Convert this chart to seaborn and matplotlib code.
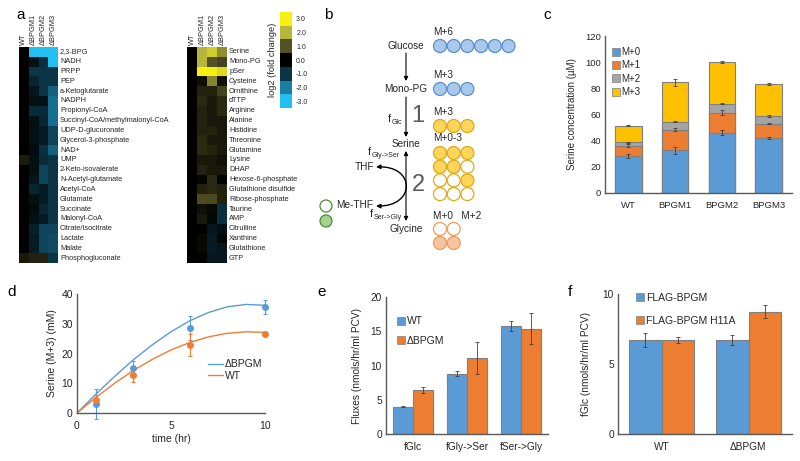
import numpy as np
import pandas as pd
import matplotlib
matplotlib.use("Agg")
import matplotlib.pyplot as plt
import seaborn as sns
from matplotlib.colors import LinearSegmentedColormap
from matplotlib.patches import Circle, FancyArrowPatch
from matplotlib.path import Path
from matplotlib.lines import Line2D

# ------------------------------------------------------------------ data
hm_columns = ["WT", "ΔBPGM1", "ΔBPGM2", "ΔBPGM3"]

left_metabolites = ["2,3-BPG", "NADH", "PRPP", "PEP", "a-Ketoglutarate", "NADPH",
                    "Propionyl-CoA", "Succinyl-CoA/methylmalonyl-CoA", "UDP-D-glucuronate",
                    "Glycerol-3-phosphate", "NAD+", "UMP", "2-Keto-isovalerate",
                    "N-Acetyl-glutamate", "Acetyl-CoA", "Glutamate", "Succinate",
                    "Malonyl-CoA", "Citrate/Isocitrate", "Lactate", "Malate", "Phosphogluconate"]
left_wt    = [0, 0, 0, 0, 0, 0, 0, 0, 0, 0, 0, 0.35, 0, 0, 0, 0, 0, 0, 0, 0, 0, 0.3]
left_bpgm1 = [-3, -0.3, -1.0, -0.7, -0.4, -0.3, -0.8, -0.3, -0.3, -0.3, -0.2, -0.3, -0.3, -0.4,
              -0.7, -0.3, -0.2, -0.3, -0.6, -0.5, -0.5, 0.4]
left_bpgm2 = [-3, -0.9, -1.0, -1.0, -1.0, -0.3, -0.8, -0.7, -0.5, -0.5, -0.9, -0.8, -1.2, -1.2,
              -0.5, -0.5, -0.7, -0.5, -1.2, -1.2, -1.2, 0.4]
left_bpgm3 = [-3, -3, -1.0, -1.0, -1.6, -1.8, -1.8, -1.8, -1.2, -1.2, -1.6, -1.0, -1.0, -1.0,
              -1.0, -1.0, -1.0, -1.0, -1.2, -1.3, -1.3, -1.0]

right_metabolites = ["Serine", "Mono-PG", "pSer", "Cysteine", "Ornithine", "dTTP", "Arginine",
                     "Alanine", "Histidine", "Threonine", "Glutamine", "Lysine", "DHAP",
                     "Hexose-6-phosphate", "Glutathione disulfide", "Ribose-phosphate",
                     "Taurine", "AMP", "Citrulline", "Xanthine", "Glutathione", "GTP"]
right_wt    = [0] * 22
right_bpgm1 = [2.0, 2.0, 3.0, 0.2, 0.4, 0.5, 0.4, 0.4, 0.4, 0.5, 0.5, 0.3, 0.4, 0.05, 0.4, 0.9,
               0.2, 0.3, 0.0, 0.1, 0.1, 0.0]
right_bpgm2 = [2.4, 1.0, 3.0, 1.5, 0.4, 0.3, 0.3, 0.3, 0.4, 0.3, 0.4, 0.3, 0.3, 0.5, 0.5, 0.9,
               0.1, -0.1, -0.4, -0.5, -0.5, -0.4]
right_bpgm3 = [1.6, 0.8, 2.6, 0.2, 0.8, 0.5, 0.5, 0.3, 0.3, 0.3, 0.3, 0.2, 0.3, 0.0, 0.4, 0.4,
               -0.9, -0.9, -0.3, -0.1, -0.4, -0.4]

cbar_levels = [3.0, 2.0, 1.0, 0.0, -1.0, -2.0, -3.0]
cbar_colors = ["#f5ef12", "#b6b43a", "#535224", "#000000", "#0b3545", "#1a7ea2", "#22c0f0"]

# panel b diagram content
glucose_filled = [1, 1, 1, 1, 1, 1]
monopg_filled = [1, 1, 1]
serine_m3_filled = [1, 1, 1]
serine_mix_filled = [[1, 1, 1], [1, 1, 0], [0, 0, 1], [0, 0, 0]]
glycine_filled = [[0, 0], [1, 1]]
methf_filled = [0, 1]

# panel c
c_groups = ["WT", "BPGM1", "BPGM2", "BPGM3"]
c_labels = ["M+0", "M+1", "M+2", "M+3"]
c_m0 = [28.1, 32.7, 46.0, 41.9]
c_m1 = [8.2, 15.8, 15.5, 11.2]
c_m2 = [2.5, 6.1, 6.9, 5.6]
c_m3 = [12.5, 29.9, 31.6, 24.3]
c_m0_err = [1.5, 2.8, 1.8, 0.6]
c_m1_err = [1.2, 1.2, 1.7, 0.6]
c_m2_err = [0.4, 0.5, 0.7, 0.6]
c_m3_err = [0.4, 2.8, 1.0, 0.8]

# panel d
d_time = [1, 3, 6, 10]
d_dbpgm = [2.9, 15.0, 28.5, 35.6]
d_dbpgm_err = [5.0, 2.5, 4.0, 2.3]
d_wt = [4.5, 12.7, 22.9, 26.4]
d_wt_err = [1.5, 2.3, 3.8, 0.5]
d_trend_t = [0, 1, 2, 3, 4, 5, 6, 7, 8, 9, 10]
d_trend_dbpgm = [0, 6.3, 12.3, 17.9, 22.9, 27.3, 31.0, 33.8, 35.7, 36.5, 36.2]
d_trend_wt = [0, 5.2, 10.0, 14.3, 18.0, 21.2, 23.7, 25.6, 26.8, 27.3, 27.1]

# panel e
e_flux = ["fGlc", "fGly->Ser", "fSer->Gly"]
e_wt = [4.0, 8.8, 15.8]
e_wt_err = [0.1, 0.4, 0.7]
e_dbpgm = [6.45, 11.07, 15.4]
e_dbpgm_err = [0.4, 2.3, 2.3]

# panel f
f_groups = ["WT", "ΔBPGM"]
f_flag = [6.68, 6.70]
f_flag_err = [0.5, 0.35]
f_h11a = [6.73, 8.73]
f_h11a_err = [0.2, 0.45]

# ------------------------------------------------------------------ style
sns.set_style("white")
plt.rcParams["font.family"] = ["Liberation Sans", "DejaVu Sans"]
plt.rcParams["axes.unicode_minus"] = False

BLUE, ORANGE, GRAY, YELLOW = "#5b9bd5", "#ed7d31", "#a5a5a5", "#ffc000"
EDGE = "#7f7f7f"
TXT = "#262626"
SPINE = "#595959"

W, H = 800, 461
fig = plt.figure(figsize=(8, 4.61), dpi=100)


def rect(x0, y0, x1, y1):
    return [x0 / W, 1 - y1 / H, (x1 - x0) / W, (y1 - y0) / H]


fc_cmap = LinearSegmentedColormap.from_list(
    "fc", list(zip(np.linspace(0, 1, 7), cbar_colors[::-1])))

# ------------------------------------------------------------------ panel a
def draw_heatmap(r, names, cols):
    ax = fig.add_axes(r)
    df = pd.DataFrame(dict(zip(hm_columns, cols)), index=names)
    sns.heatmap(df, ax=ax, cmap=fc_cmap, vmin=-3, vmax=3, cbar=False,
                xticklabels=True, yticklabels=True)
    ax.xaxis.tick_top()
    ax.yaxis.tick_right()
    ax.tick_params(length=0, pad=1.5)
    for t in ax.get_xticklabels():
        t.set_rotation(90); t.set_fontsize(5.3); t.set_ha("center"); t.set_va("bottom")
        t.set_color(TXT)
    for t in ax.get_yticklabels():
        t.set_rotation(0); t.set_fontsize(5.3); t.set_ha("left"); t.set_va("center")
        t.set_color(TXT)
    return ax


draw_heatmap(rect(19, 47, 58, 263), left_metabolites, [left_wt, left_bpgm1, left_bpgm2, left_bpgm3])
draw_heatmap(rect(187, 47, 227, 263), right_metabolites, [right_wt, right_bpgm1, right_bpgm2, right_bpgm3])

axcb = fig.add_axes(rect(280, 12, 292, 108))
sns.heatmap(pd.DataFrame({"v": cbar_levels}), ax=axcb, cmap=fc_cmap, vmin=-3, vmax=3,
            cbar=False, xticklabels=False, yticklabels=[f"{v:.1f}" for v in cbar_levels])
axcb.yaxis.tick_right()
axcb.tick_params(length=0, pad=3)
for t in axcb.get_yticklabels():
    t.set_rotation(0); t.set_fontsize(5); t.set_color(TXT)
axcb.set_ylabel("log2 (fold change)", fontsize=6.7, color=TXT, labelpad=2)
axcb.yaxis.set_label_position("left")

# ------------------------------------------------------------------ panel b
axb = fig.add_axes(rect(300, 0, 540, 260))
axb.set_xlim(300, 540)
axb.set_ylim(260, 0)
axb.axis("off")

FS = 7.2
R = 6.5
STEP = 13.7


def circles(x0, y0, flags, fill, edge):
    for i, f in enumerate(flags):
        axb.add_patch(Circle((x0 + i * STEP, y0), R, facecolor=fill if f else "white",
                             edgecolor=edge, lw=0.9))


cx = 406
for txt, y in [("Glucose", 46), ("Mono-PG", 89), ("Serine", 144), ("Glycine", 229)]:
    axb.text(cx, y, txt, ha="center", va="center", fontsize=FS, color=TXT)

for txt, y in [("M+6", 32), ("M+3", 75), ("M+3", 112), ("M+0-3", 138), ("M+0   M+2", 216)]:
    axb.text(433, y, txt, ha="left", va="center", fontsize=FS, color=TXT)

circles(440, 46, glucose_filled, "#a9c9ec", "#5a8fcf")
circles(440, 89, monopg_filled, "#a9c9ec", "#5a8fcf")
circles(440, 126, serine_m3_filled, "#ffd55a", "#e0a816")
for k, row in enumerate(serine_mix_filled):
    circles(440, 153 + k * STEP, row, "#ffd55a", "#e0a816")
for k, row in enumerate(glycine_filled):
    circles(440, 229 + k * 14, row, "#f7c3a0", "#f09a55")
for k, f in enumerate(methf_filled):
    axb.add_patch(Circle((326, 206 + k * 15), 6, facecolor="#a3d38f" if f else "white",
                         edgecolor="#4e8a35", lw=0.9))

arrow_kw = dict(color="black", lw=0.8, mutation_scale=6, shrinkA=0, shrinkB=0)
axb.add_patch(FancyArrowPatch((cx, 53), (cx, 81), arrowstyle="-|>", **arrow_kw))
axb.add_patch(FancyArrowPatch((cx, 97), (cx, 137), arrowstyle="-|>", **arrow_kw))
axb.add_patch(FancyArrowPatch((cx, 151), (cx, 221), arrowstyle="<|-|>", **arrow_kw))
curve = Path([(376, 167), (416, 165), (416, 207), (376, 206)],
             [Path.MOVETO, Path.CURVE4, Path.CURVE4, Path.CURVE4])
axb.add_patch(FancyArrowPatch(path=curve, arrowstyle="<|-|>", color="black", lw=1.0,
                              mutation_scale=6))

axb.text(cx + 12, 116, "1", fontsize=17, color="#595959", ha="center", va="center")
axb.text(cx + 12, 185, "2", fontsize=17, color="#595959", ha="center", va="center")
axb.text(374, 167, "THF", ha="right", va="center", fontsize=FS, color=TXT)
axb.text(373, 205, "Me-THF", ha="right", va="center", fontsize=FS, color=TXT)


def flux_label(x, y, sub):
    axb.text(x, y, "f", ha="left", va="center", fontsize=8, color=TXT)
    axb.text(x + 3.6, y + 3.5, sub, ha="left", va="center", fontsize=5, color=TXT)


flux_label(388, 119, "Glc")
flux_label(368, 152, "Gly->Ser")
flux_label(370, 214, "Ser->Gly")


def style_axes(ax, fs=7):
    sns.despine(ax=ax)
    for s in ("left", "bottom"):
        ax.spines[s].set_color(SPINE)
        ax.spines[s].set_linewidth(1.0)
    ax.tick_params(length=0, labelsize=fs, colors=TXT)
    ax.tick_params(axis="y", pad=3)
    ax.tick_params(axis="x", pad=6)
    ax.set_xlabel("")
    ax.grid(False)


def square(color, label):
    return Line2D([], [], marker="s", linestyle="None", markersize=5.5,
                  markerfacecolor=color, markeredgecolor=EDGE, markeredgewidth=0.5, label=label)


# ------------------------------------------------------------------ panel c
axc = fig.add_axes(rect(605, 36, 792, 193))
seg = np.array([c_m0, c_m1, c_m2, c_m3])
seg_err = [c_m0_err, c_m1_err, c_m2_err, c_m3_err]
cum = np.cumsum(seg, axis=0)
c_colors = [BLUE, ORANGE, GRAY, YELLOW]
for k in reversed(range(4)):
    sns.barplot(x=c_groups, y=cum[k], color=c_colors[k], width=0.57, saturation=1,
                edgecolor=EDGE, linewidth=0.8, errorbar=None, ax=axc)
for k in range(4):
    axc.errorbar(np.arange(4), cum[k], yerr=seg_err[k], fmt="none", ecolor="#404040",
                 elinewidth=0.6, capsize=1.5, capthick=0.6)
axc.set_ylim(0, 120)
axc.set_xlim(-0.5, 3.5)
axc.set_yticks(range(0, 121, 20))
style_axes(axc, 6.8)
axc.set_ylabel("Serine concentration (µM)", fontsize=7, color=TXT, labelpad=6)
axc.legend(handles=[square(c, l) for c, l in zip(c_colors, c_labels)], loc="upper left",
           bbox_to_anchor=(0.0, 0.98), frameon=False, fontsize=7, handlelength=0.7,
           handletextpad=0.2, labelspacing=0.35, borderpad=0.3)

# ------------------------------------------------------------------ panel d
axd = fig.add_axes(rect(77, 294, 265, 413))
sns.lineplot(x=d_trend_t, y=d_trend_dbpgm, color=BLUE, lw=1.0, ax=axd, label="ΔBPGM")
sns.lineplot(x=d_trend_t, y=d_trend_wt, color=ORANGE, lw=1.0, ax=axd, label="WT")
for y, e, col in [(d_dbpgm, d_dbpgm_err, BLUE), (d_wt, d_wt_err, ORANGE)]:
    eb = axd.errorbar(d_time, y, yerr=e, fmt="o", color=col, ms=4,
                      elinewidth=0.8, capsize=1.5, capthick=0.8, clip_on=False)
    for art in eb.lines[0:1] + tuple(eb.lines[1]) + tuple(eb.lines[2]):
        if art is not None:
            art.set_clip_on(False)
axd.set_xlim(0, 10)
axd.set_ylim(0, 40)
axd.set_xticks([0, 5, 10])
axd.set_yticks([0, 10, 20, 30, 40])
style_axes(axd, 7.5)
axd.set_xlabel("time (hr)", fontsize=7.5, color=TXT, labelpad=2)
axd.set_ylabel("Serine (M+3) (mM)", fontsize=7.5, color=TXT, labelpad=3)
axd.legend(loc="center left", bbox_to_anchor=(0.66, 0.36), frameon=False, fontsize=7.5,
           handlelength=1.4, handletextpad=0.15, labelspacing=0.15, borderpad=0.2)


def grouped(ax, cats, a, a_err, b, b_err, la, lb):
    df = pd.DataFrame({"cat": cats * 2, "val": a + b, "grp": [la] * len(cats) + [lb] * len(cats)})
    sns.barplot(data=df, x="cat", y="val", hue="grp", hue_order=[la, lb],
                palette=[BLUE, ORANGE], width=0.74, saturation=1, edgecolor=EDGE,
                linewidth=0.8, errorbar=None, legend=False, ax=ax)
    for cont, err in zip(ax.containers, [a_err, b_err]):
        xs = [p.get_x() + p.get_width() / 2 for p in cont.patches]
        ys = [p.get_height() for p in cont.patches]
        ax.errorbar(xs, ys, yerr=err, fmt="none", ecolor="#404040", elinewidth=0.6,
                    capsize=1.5, capthick=0.6)
    ax.set_xlim(-0.5, len(cats) - 0.5)


# ------------------------------------------------------------------ panel e
axe = fig.add_axes(rect(386, 297, 548, 434))
grouped(axe, e_flux, e_wt, e_wt_err, e_dbpgm, e_dbpgm_err, "WT", "ΔBPGM")
axe.set_ylim(0, 20)
axe.set_yticks([0, 5, 10, 15, 20])
style_axes(axe, 7.3)
axe.set_ylabel("Fluxes (nmols/hr/ml PCV)", fontsize=7.3, color=TXT, labelpad=6)
axe.legend(handles=[square(BLUE, "WT"), square(ORANGE, "ΔBPGM")], loc="upper left",
           bbox_to_anchor=(0.02, 0.92), frameon=False, fontsize=7.5, handlelength=0.7,
           handletextpad=0.2, labelspacing=0.9, borderpad=0.3)

# ------------------------------------------------------------------ panel f
axf = fig.add_axes(rect(618, 294, 792, 434))
grouped(axf, f_groups, f_flag, f_flag_err, f_h11a, f_h11a_err, "FLAG-BPGM", "FLAG-BPGM H11A")
axf.set_ylim(0, 10)
axf.set_yticks([0, 5, 10])
style_axes(axf, 7.3)
axf.set_ylabel("fGlc (nmols/hr/ml PCV)", fontsize=7.3, color=TXT, labelpad=8)
axf.legend(handles=[square(BLUE, "FLAG-BPGM"), square(ORANGE, "FLAG-BPGM H11A")],
           loc="upper left", bbox_to_anchor=(0.06, 1.07), frameon=False, fontsize=7.5,
           handlelength=0.7, handletextpad=0.2, labelspacing=1.3, borderpad=0.3)

# ------------------------------------------------------------------ panel letters
for letter, x, y in [("a", 21, 15), ("b", 328, 15), ("c", 547, 15),
                     ("d", 12, 292), ("e", 322, 292), ("f", 570, 292)]:
    fig.text(x / W, 1 - y / H, letter, fontsize=11, ha="center", va="center", color="black")

fig.savefig("out.png", dpi=100)
